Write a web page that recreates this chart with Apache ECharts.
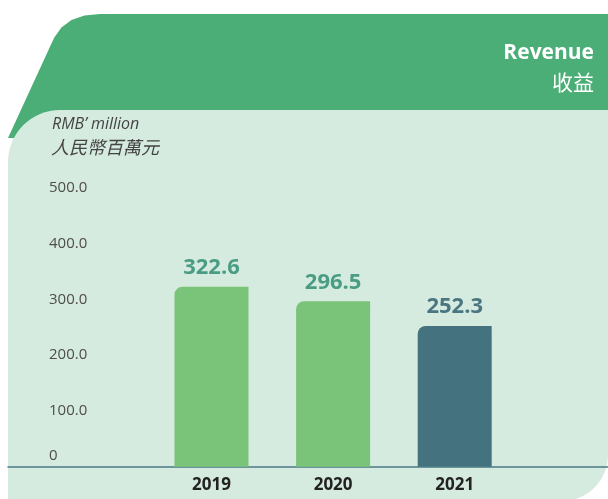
<!DOCTYPE html>
<html>
<head>
<meta charset="utf-8">
<script src="https://cdn.jsdelivr.net/npm/echarts@6/dist/echarts.min.js"></script>
<style>
  html, body { margin: 0; padding: 0; background: #fff; }
  #chart { width: 608px; height: 499px; }
</style>
</head>
<body>
<div id="chart"></div>
<script>
const years = ['2019', '2020', '2021'];
const revenue = [322.6, 296.5, 252.3];
const barColors = ['#79C479', '#79C479', '#44737F'];
const labelColors = ['#4A9D84', '#4A9D84', '#4A7682'];
const yTicks = [0, 100, 500]; // min, step, max

const myChart = echarts.init(document.getElementById('chart'));

const gridTop = 187.7;
const gridBottom = 32.3;

let option = {
  animation: false,
  backgroundColor: '#ffffff',
  graphic: [
    {
      // dark green header
      type: 'polygon',
      z: -10,
      shape: {
        points: [[8, 138], [54, 38], [61.4, 27.5], [71.5, 20], [84.4, 15.5], [100, 14], [608, 14], [608, 150]]
      },
      style: { fill: '#4BAE77' }
    },
    {
      // light panel
      type: 'rect',
      z: -9,
      shape: { x: 8, y: 110, width: 600, height: 391, r: [52, 0, 46, 0] },
      style: { fill: '#D6EBDF' }
    },
    {
      type: 'text',
      right: 14,
      top: 43,
      style: {
        text: 'Revenue',
        fill: '#ffffff',
        font: 'bold 21px "Open Sans", sans-serif',
        align: 'right'
      }
    },
    {
      type: 'text',
      right: 14,
      top: 72,
      style: {
        text: '收益',
        fill: '#ffffff',
        font: '21px "Noto Sans CJK TC", sans-serif',
        align: 'right'
      }
    },
    {
      type: 'text',
      left: 52,
      top: 116,
      style: {
        text: 'RMB\u2019 million',
        fill: '#444444',
        font: 'italic 16px "Open Sans", sans-serif'
      }
    },
    {
      type: 'text',
      left: 51,
      top: 138,
      style: {
        text: '人民幣百萬元',
        fill: '#444444',
        font: 'italic 18px "Noto Sans CJK TC", sans-serif'
      }
    }
  ],
  grid: [
    { left: 150.7, right: 92.5, top: gridTop, bottom: gridBottom },
    { left: 8, right: 0, top: gridTop, bottom: gridBottom }
  ],
  xAxis: [
    {
      type: 'category',
      gridIndex: 0,
      data: years,
      axisLine: { show: false },
      axisTick: { show: false },
      axisLabel: {
        margin: 10,
        fontSize: 17,
        fontWeight: 'bold',
        color: '#222222',
        fontFamily: '"Open Sans", sans-serif'
      }
    },
    {
      type: 'category',
      gridIndex: 1,
      data: years,
      axisLine: { show: true, lineStyle: { color: '#4A7A87', width: 1.5 } },
      axisTick: { show: false },
      axisLabel: { show: false }
    }
  ],
  yAxis: [
    {
      type: 'value',
      gridIndex: 0,
      min: yTicks[0],
      max: yTicks[2],
      interval: yTicks[1],
      show: false
    },
    {
      type: 'value',
      gridIndex: 1,
      min: yTicks[0],
      max: yTicks[2],
      interval: yTicks[1],
      axisLine: { show: false },
      axisTick: { show: false },
      splitLine: { show: false },
      axisLabel: {
        inside: true,
        margin: 41,
        fontSize: 15,
        color: '#4d4d4d',
        fontFamily: '"Open Sans", sans-serif',
        formatter: function (v) {
          if (v === 0) return '{z|0}';
          return v.toFixed(1);
        },
        rich: {
          z: { fontSize: 15, color: '#4d4d4d', padding: [0, 0, 22, 0], fontFamily: '"Open Sans", sans-serif' }
        }
      }
    }
  ],
  series: [
    {
      type: 'bar',
      xAxisIndex: 0,
      yAxisIndex: 0,
      barWidth: 74,
      data: revenue.map(function (v, i) {
        return {
          value: v,
          itemStyle: { color: barColors[i], borderRadius: [8, 0, 0, 0] },
          label: { color: labelColors[i] }
        };
      }),
      label: {
        show: true,
        position: 'top',
        distance: 8,
        fontSize: 22,
        fontWeight: 'bold',
        fontFamily: '"Open Sans", sans-serif',
        formatter: function (p) { return p.value.toFixed(1); }
      }
    }
  ]
};

myChart.setOption(option);
</script>
</body>
</html>
